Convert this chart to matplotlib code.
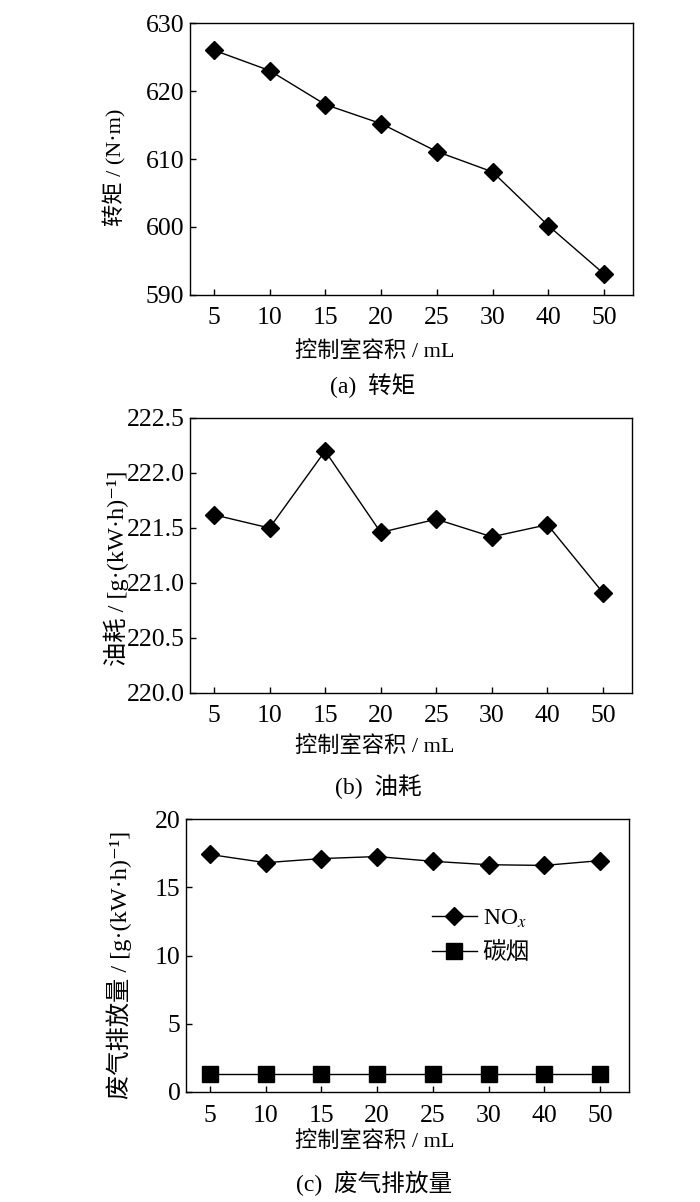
import matplotlib
matplotlib.use("Agg")
from matplotlib import pyplot as plt
import numpy as np

plt.rcParams['font.family'] = ['Liberation Serif', 'Noto Sans CJK SC', 'DejaVu Sans']
plt.rcParams['mathtext.fontset'] = 'stix'

# data
volumes = ['5', '10', '15', '20', '25', '30', '40', '50']
torque = [626.0, 623.0, 618.0, 615.2, 611.1, 608.1, 600.2, 593.1]
fuel = [221.62, 221.50, 222.20, 221.46, 221.58, 221.42, 221.53, 220.91]
nox = [17.40, 16.80, 17.10, 17.25, 16.90, 16.65, 16.60, 16.95]
soot = [1.30, 1.30, 1.30, 1.30, 1.30, 1.30, 1.30, 1.30]

W, H = 700, 1202
fig = plt.figure(figsize=(W / 100, H / 100), dpi=100)


def px_axes(left, top, right, bottom):
    return fig.add_axes([left / W, 1 - bottom / H, (right - left) / W, (bottom - top) / H])


def style(ax, ylim, yticks, yfmt):
    x = np.arange(len(volumes))
    ax.set_xlim(-0.43, 7.52)
    ax.set_xticks(x)
    ax.set_xticklabels(volumes)
    ax.set_ylim(*ylim)
    ax.set_yticks(yticks)
    ax.set_yticklabels([yfmt.format(v) for v in yticks])
    ax.tick_params(direction='in', length=4.5, width=1, labelsize=18.5)
    ax.tick_params(axis='x', pad=9)
    ax.tick_params(axis='y', pad=4)
    ax.tick_params(top=False, right=False)
    for s in ax.spines.values():
        s.set_linewidth(1)


x = np.arange(len(volumes))
lab_fs = 16
cap_fs = 17

# (a) torque
ax1 = px_axes(190, 23, 633, 295)
ax1.plot(x, torque, color='black', lw=1, marker='D', ms=9.5)
style(ax1, (590, 630), np.arange(590, 631, 10), '{:.0f}')
ax1.text(-0.169, 0.47, '转矩 / (N·m)', transform=ax1.transAxes, rotation=90,
         ha='center', va='center', fontsize=lab_fs)
fig.text(375 / W, 1 - 352 / H, '控制室容积 / mL', ha='center', va='center', fontsize=lab_fs)
fig.text(373 / W, 1 - 386 / H, '(a)  转矩', ha='center', va='center', fontsize=cap_fs)

# (b) fuel consumption
ax2 = px_axes(190, 418, 632, 693)
ax2.plot(x, fuel, color='black', lw=1, marker='D', ms=9.5)
style(ax2, (220.0, 222.5), np.arange(220.0, 222.51, 0.5), '{:.1f}')
ax2.text(-0.166, 0.455, '油耗 / [g·(kW·h)⁻¹]', transform=ax2.transAxes, rotation=90,
         ha='center', va='center', fontsize=17.5)
fig.text(375 / W, 1 - 747 / H, '控制室容积 / mL', ha='center', va='center', fontsize=lab_fs)
fig.text(378 / W, 1 - 787 / H, '(b)  油耗', ha='center', va='center', fontsize=cap_fs)

# (c) exhaust emissions
ax3 = px_axes(186, 819, 629, 1092)
ax3.plot(x, nox, color='black', lw=1, marker='D', ms=9.5, label='NO$_x$')
ax3.plot(x, soot, color='black', lw=1, marker='s', ms=11, label='碳烟')
style(ax3, (0, 20), np.arange(0, 21, 5), '{:.0f}')
ax3.text(-0.15, 0.465, '废气排放量 / [g·(kW·h)⁻¹]', transform=ax3.transAxes, rotation=90,
         ha='center', va='center', fontsize=17.5)
ax3.legend(loc='upper left', bbox_to_anchor=(0.555, 0.675), frameon=False,
           fontsize=17, handlelength=1.9, handletextpad=0.25,
           borderaxespad=0, borderpad=0, labelspacing=0.5)
fig.text(375 / W, 1 - 1142 / H, '控制室容积 / mL', ha='center', va='center', fontsize=lab_fs)
fig.text(374 / W, 1 - 1183 / H, '(c)  废气排放量', ha='center', va='center', fontsize=cap_fs)

fig.savefig('out.png', dpi=100)
